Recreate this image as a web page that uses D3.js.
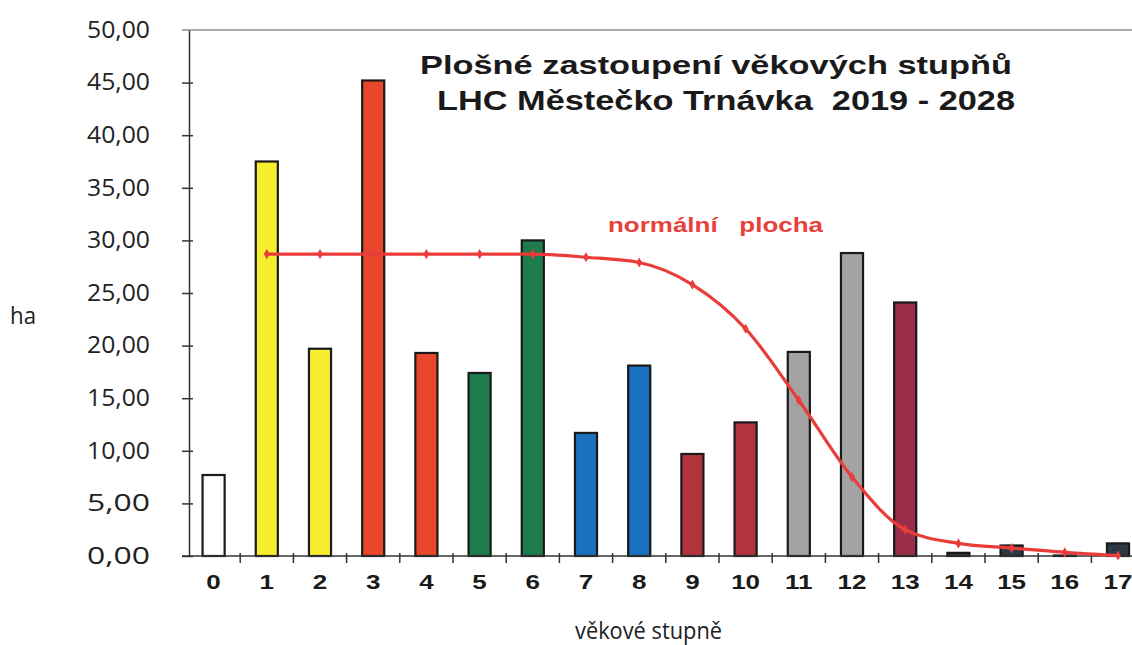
<!DOCTYPE html>
<html><head><meta charset="utf-8">
<script src="https://cdn.jsdelivr.net/npm/d3@7"></script>
<style>body{margin:0;background:#fff}svg{display:block}</style>
</head><body>
<svg id="c" width="1132" height="645"></svg>
<script>
const categories = ["0","1","2","3","4","5","6","7","8","9","10","11","12","13","14","15","16","17"];
const areaValues = [7.7,37.5,19.7,45.2,19.3,17.4,30.0,11.7,18.1,9.7,12.7,19.4,28.8,24.1,0.3,1.0,0.05,1.2];
const barColors = ["#ffffff","#f7ef2e","#f7ef2e","#e9472c","#e9472c","#1e7b4b","#1e7b4b","#1b6fbf","#1b6fbf","#b1333c","#b1333c","#a3a3a3","#a3a3a3","#9a2e48","#2b3a44","#2b3a44","#2b3a44","#2b3a44"];
const normalCats = ["1","2","3","4","5","6","7","8","9","10","11","12","13","14","15","16","17"];
const normalValues = [28.7,28.7,28.7,28.7,28.7,28.7,28.4,27.9,25.8,21.6,14.8,7.5,2.5,1.2,0.75,0.35,0.05];
const yTicks = [0,5,10,15,20,25,30,35,40,45,50];
const titleLines = ["Plošné zastoupení věkových stupňů", "LHC Městečko Trnávka  2019 - 2028"];

const svg = d3.select("#c");
const boldFont = "'Liberation Sans', Arial, sans-serif";
const plainFont = "'Open Sans', 'Noto Sans', sans-serif";
const x0 = 187, bw = 53.2;
const x = d3.scaleBand().domain(categories).range([x0, x0 + bw*categories.length]).paddingInner(0.585).paddingOuter(0.2925);
const xb = d3.scaleBand().domain(categories).range([x0, x0 + bw*categories.length]);
const y = d3.scaleLinear().domain([0,50]).range([556,30]);

// top border
svg.append("line").attr("x1",182).attr("x2",1132).attr("y1",30).attr("y2",30).attr("stroke","#555").attr("stroke-width",1.2);

// bars
svg.append("g").selectAll("rect").data(categories).join("rect")
  .attr("x", d => x(d)).attr("width", x.bandwidth())
  .attr("y", (d,i) => y(areaValues[i])).attr("height", (d,i) => y(0) - y(areaValues[i]))
  .attr("fill", (d,i) => barColors[i]).attr("stroke","#1a1a1a").attr("stroke-width",2.2);

// y axis
const ya = svg.append("g").attr("transform","translate(189,0)")
  .call(d3.axisLeft(y).tickValues(yTicks).tickSize(0).tickFormat(d => d3.format(".2f")(d).replace(".",",")));
ya.select(".domain").attr("stroke","#333").attr("stroke-width",1.5);
ya.selectAll(".tick text").attr("x",-39).attr("font-family",plainFont).attr("font-size",23).attr("fill","#222")
  .attr("textLength",63).attr("lengthAdjust","spacingAndGlyphs");
ya.selectAll(".tick").filter(d => d < 50).append("line").attr("x1",-7).attr("x2",4).attr("stroke","#333").attr("stroke-width",1.5);

// x axis
svg.append("line").attr("x1",182).attr("x2",1132).attr("y1",556).attr("y2",556).attr("stroke","#333").attr("stroke-width",1.5);
svg.append("g").selectAll("line").data(categories.slice(1)).join("line")
  .attr("x1", d => xb(d)).attr("x2", d => xb(d)).attr("y1",553).attr("y2",563).attr("stroke","#333").attr("stroke-width",1.5);
svg.append("g").selectAll("text").data(categories).join("text")
  .attr("transform", d => `translate(${xb(d) + xb.bandwidth()/2},589) scale(1.3,1)`).attr("text-anchor","middle")
  .attr("font-family",boldFont).attr("font-weight","bold").attr("font-size",20).attr("fill","#1a1a1a")
  .text(d => d);

// normal line
const line = d3.line().x((d,i) => xb(normalCats[i]) + xb.bandwidth()/2).y(d => y(d)).curve(d3.curveMonotoneX);
svg.append("path").datum(normalValues).attr("d", line).attr("fill","none").attr("stroke","#ea3d3a").attr("stroke-width",3.2);
svg.append("g").selectAll("path").data(normalValues).join("path")
  .attr("transform",(d,i) => `translate(${xb(normalCats[i]) + xb.bandwidth()/2},${y(d)})`)
  .attr("d", d3.symbol(d3.symbolDiamond, 30)).attr("fill","#ea3d3a");

svg.append("text").attr("x",608).attr("y",232).attr("font-family",boldFont).attr("font-weight","bold")
  .attr("font-size",21).attr("fill","#e8403a").style("white-space","pre")
  .attr("textLength",215).attr("lengthAdjust","spacingAndGlyphs").text("normální   plocha");

// title
svg.append("text").attr("x",420).attr("y",74).attr("font-family",boldFont).attr("font-weight","bold")
  .attr("font-size",26).attr("fill","#1a1a1a").attr("textLength",592).attr("lengthAdjust","spacingAndGlyphs").text(titleLines[0]);
svg.append("text").attr("x",437).attr("y",110).attr("font-family",boldFont).attr("font-weight","bold")
  .attr("font-size",27).attr("fill","#1a1a1a").style("white-space","pre")
  .attr("textLength",578).attr("lengthAdjust","spacingAndGlyphs").text(titleLines[1]);

// axis titles
svg.append("text").attr("x",10).attr("y",324).attr("font-family",plainFont).attr("font-size",23).attr("fill","#222")
  .attr("textLength",26).attr("lengthAdjust","spacingAndGlyphs").text("ha");
svg.append("text").attr("x",575).attr("y",639).attr("font-family",plainFont).attr("font-size",23).attr("fill","#222")
  .attr("textLength",147).attr("lengthAdjust","spacingAndGlyphs").text("věkové stupně");
</script>
</body></html>
